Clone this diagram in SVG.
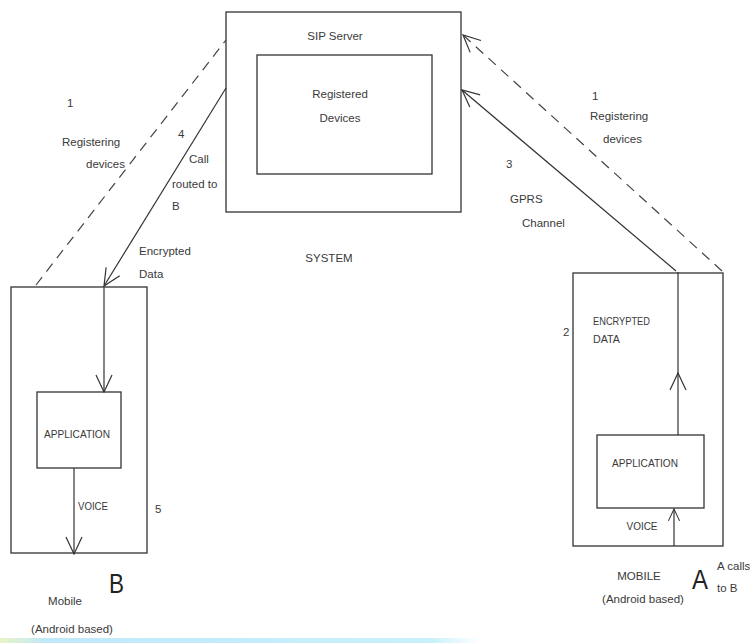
<svg xmlns="http://www.w3.org/2000/svg" width="750" height="643" viewBox="0 0 750 643">
<defs>
<style>
.box{fill:none;stroke:#333;stroke-width:1.3}
.ln{fill:none;stroke:#333;stroke-width:1.2}
.dash{fill:none;stroke:#444;stroke-width:1.2;stroke-dasharray:10 7}
text{font-family:"Liberation Sans","Open Sans",Arial,sans-serif;font-size:11.5px;fill:#3a3a3a}
.big{font-size:28px;fill:#222}
.mid{text-anchor:middle}
</style>
<marker id="arr" viewBox="0 0 20 20" refX="19" refY="10" markerWidth="20" markerHeight="20" markerUnits="userSpaceOnUse" orient="auto">
<path d="M2,2 L19,10 L2,18" fill="none" stroke="#333" stroke-width="1.2"/>
</marker>
<marker id="arrs" viewBox="0 0 20 20" refX="19" refY="10" markerWidth="14" markerHeight="14" markerUnits="userSpaceOnUse" orient="auto">
<path d="M2,2 L19,10 L2,18" fill="none" stroke="#333" stroke-width="1.5"/>
</marker>
<linearGradient id="bl" x1="0" x2="1" y1="0" y2="0">
<stop offset="0" stop-color="#e9f4c8"/>
<stop offset="0.1" stop-color="#bfe8fb"/>
<stop offset="0.9" stop-color="#c9f1fb"/>
<stop offset="1" stop-color="#ffffff"/>
</linearGradient>
</defs>
<rect width="750" height="643" fill="#fff"/>
<rect x="0" y="638" width="480" height="5" fill="url(#bl)"/>

<g id="connectors">
<line class="dash" x1="36" y1="285" x2="226" y2="40"/>
<line class="ln" x1="226" y1="88" x2="104" y2="286" marker-end="url(#arr)"/>
<line class="ln" x1="104" y1="287" x2="104" y2="392" marker-end="url(#arr)"/>
<line class="ln" x1="74" y1="468" x2="74" y2="554" marker-end="url(#arr)"/>
<line class="dash" x1="722" y1="271" x2="463" y2="35" marker-end="url(#arr)"/>
<line class="ln" x1="676" y1="271" x2="462" y2="90" marker-end="url(#arr)"/>
<line class="ln" x1="678" y1="435" x2="678" y2="373" marker-end="url(#arr)"/>
<line class="ln" x1="678" y1="374" x2="678" y2="272"/>
<line class="ln" x1="674" y1="546" x2="674" y2="509" marker-end="url(#arrs)"/>
</g>

<g id="sip-server">
<rect class="box" x="226" y="12" width="235" height="200"/>
<text class="mid" x="335" y="40">SIP Server</text>
</g>
<g id="registered-devices">
<rect class="box" x="257" y="55" width="175" height="119"/>
<text class="mid" x="340" y="98">Registered</text>
<text class="mid" x="340" y="122">Devices</text>
</g>
<g id="system-label">
<text class="mid" x="329" y="262">SYSTEM</text>
</g>

<g id="mobile-b">
<rect class="box" x="11" y="287" width="136" height="266"/>
<text class="big" x="109" y="593" textLength="15" lengthAdjust="spacingAndGlyphs">B</text>
<text class="mid" x="65" y="605">Mobile</text>
<text class="mid" x="72" y="633">(Android based)</text>
<text x="155" y="513">5</text>
</g>
<g id="application-b">
<rect class="box" x="37" y="392" width="84" height="76"/>
<text class="mid" x="77" y="438" textLength="66" lengthAdjust="spacingAndGlyphs">APPLICATION</text>
<text x="78" y="510" textLength="30" lengthAdjust="spacingAndGlyphs">VOICE</text>
</g>

<g id="mobile-a">
<rect class="box" x="573" y="273" width="150" height="273"/>
<text x="563" y="336">2</text>
<text x="593" y="325" textLength="57" lengthAdjust="spacingAndGlyphs">ENCRYPTED</text>
<text x="593" y="343" textLength="27" lengthAdjust="spacingAndGlyphs">DATA</text>
<text class="mid" x="639" y="580">MOBILE</text>
<text class="mid" x="643" y="603">(Android based)</text>
<text class="big" x="692" y="589" textLength="16" lengthAdjust="spacingAndGlyphs">A</text>
<text x="717" y="570">A calls</text>
<text x="717" y="592">to B</text>
</g>
<g id="application-a">
<rect class="box" x="597" y="435" width="107" height="73"/>
<text class="mid" x="645" y="467" textLength="66" lengthAdjust="spacingAndGlyphs">APPLICATION</text>
<text class="mid" x="642" y="530" textLength="31" lengthAdjust="spacingAndGlyphs">VOICE</text>
</g>

<g id="labels-left">
<text x="67" y="107">1</text>
<text x="62" y="146">Registering</text>
<text x="86" y="168">devices</text>
<text x="178" y="138">4</text>
<text x="189" y="163">Call</text>
<text x="172" y="188">routed to</text>
<text x="172" y="210">B</text>
<text x="139" y="255">Encrypted</text>
<text x="139" y="278">Data</text>
</g>
<g id="labels-right">
<text x="592" y="100">1</text>
<text x="590" y="120">Registering</text>
<text x="603" y="143">devices</text>
<text x="506" y="168">3</text>
<text x="510" y="203">GPRS</text>
<text x="522" y="227">Channel</text>
</g>
</svg>
